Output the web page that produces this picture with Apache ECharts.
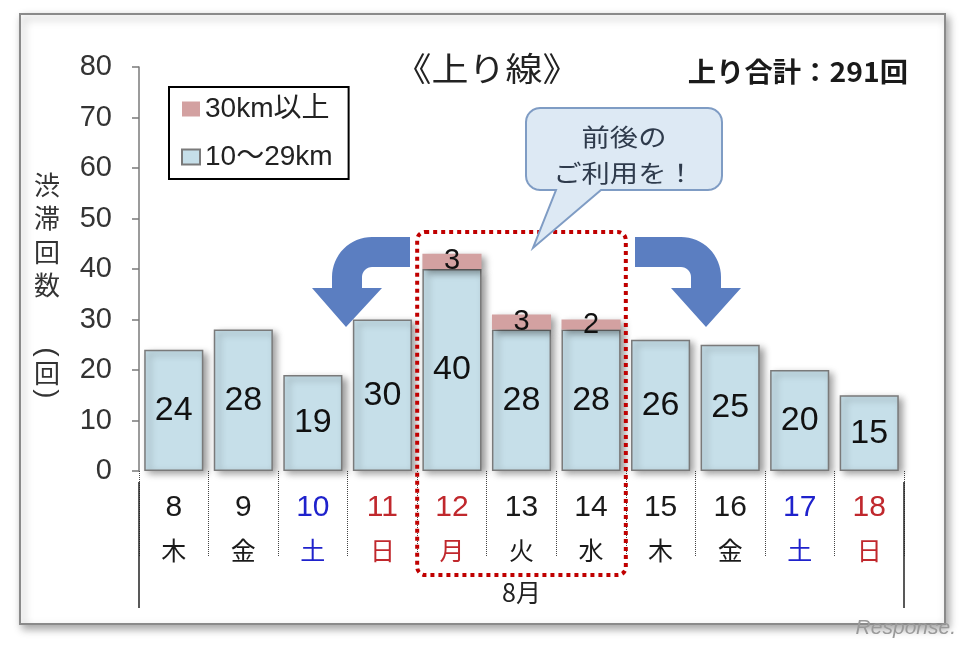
<!DOCTYPE html>
<html><head><meta charset="utf-8">
<script src="https://cdn.jsdelivr.net/npm/echarts@6/dist/echarts.min.js"></script>
<style>html,body{margin:0;padding:0;background:#fff}#c{width:968px;height:645px}</style>
</head><body><div id="c"></div>
<script>
// ---- data ----
const days = ['8','9','10','11','12','13','14','15','16','17','18'];
const weekdays = ['木','金','土','日','月','火','水','木','金','土','日'];
const holidays = ['12'];
const monthLabel = '8月';
const shortJam = [24, 28, 19, 30, 40, 28, 28, 26, 25, 20, 15];            // 10～29km
const longJam = [null, null, null, null, 3, 3, 2, null, null, null, null]; // 30km以上
const seriesNames = ['10～29km', '30km以上'];
const yMin = 0, yMax = 80, yStep = 10;
const titleText = '《上り線》';
const yAxisName = ['渋','滞','回','数'];
const yAxisUnit = ['(','回',')'];
const callout = ['前後の', 'ご利用を！'];
const highlightFrom = '12', highlightTo = '14';

const total = shortJam.concat(longJam).reduce((a, v) => a + (v || 0), 0);

const LAT = 'Liberation Sans, Arial, sans-serif';
const JP = 'Noto Sans CJK JP, sans-serif';
const BLUE = '#1f22cc', RED = '#c0282d', BLACK = '#1a1a1a';

function dayColor(i) {
  if (holidays.includes(days[i]) || weekdays[i] === '日') return 'r';
  if (weekdays[i] === '土') return 'b';
  return 'n';
}
const colMap = { n: BLACK, b: BLUE, r: RED };
const rich = {};
['n','b','r'].forEach(k => {
  rich['d' + k] = { fontFamily: LAT, fontSize: 30, color: colMap[k], lineHeight: 43 };
  rich['w' + k] = { fontFamily: JP, fontSize: 25, color: colMap[k], lineHeight: 43 };
});

const GRID = { left: 139, right: 64, top: 67, bottom: 174 };
const barShadow = { shadowColor: 'rgba(0,0,0,0.4)', shadowBlur: 7, shadowOffsetX: 4, shadowOffsetY: 3 };

const chart = echarts.init(document.getElementById('c'));
chart.setOption({
  animation: false,
  backgroundColor: '#fff',
  textStyle: { fontFamily: LAT },
  legend: {
    data: [seriesNames[1], seriesNames[0]],
    orient: 'vertical', left: 169, top: 87,
    padding: [8, 16, 8, 12], itemGap: 20,
    itemWidth: 18, itemHeight: 15, icon: 'rect',
    borderColor: '#000', borderWidth: 2,
    textStyle: { fontFamily: LAT + ',' + JP, fontSize: 28, color: '#222', lineHeight: 26 },
    itemStyle: { shadowBlur: 0, shadowOffsetX: 0, shadowOffsetY: 0 }
  },
  grid: GRID,
  xAxis: {
    type: 'category', data: days, offset: 11,
    axisLine: { show: false },
    axisTick: { show: true, interval: 0, length: 86, lineStyle: { type: 'dotted', color: '#444', width: 1 } },
    axisLabel: {
      interval: 0, margin: 4,
      formatter: (v, i) => '{d' + dayColor(i) + '|' + v + '}\n{w' + dayColor(i) + '|' + weekdays[i] + '}',
      rich: rich
    }
  },
  yAxis: {
    type: 'value', min: yMin, max: yMax, interval: yStep,
    axisLine: { show: true, lineStyle: { color: '#7a7a7a', width: 1.5 } },
    axisTick: { show: true, length: 7, lineStyle: { color: '#7a7a7a', width: 1.5 } },
    splitLine: { show: false },
    axisLabel: { fontFamily: LAT, fontSize: 29, color: '#333', margin: 27 }
  },
  series: [
    {
      name: seriesNames[0], type: 'bar', stack: 'jam', data: shortJam, barCategoryGap: '15%',
      itemStyle: Object.assign({ color: '#c6dfe9', borderColor: '#7a7a7a', borderWidth: 1.5 }, barShadow),
      label: { show: true, position: 'inside', fontFamily: LAT, fontSize: 34, color: '#111' },
      z: 3
    },
    {
      name: seriesNames[1], type: 'bar', stack: 'jam', data: longJam,
      itemStyle: Object.assign({ color: '#d3a1a1' }, barShadow),
      label: { show: true, position: 'inside', fontFamily: LAT, fontSize: 29, color: '#111' },
      z: 3
    }
  ]
});

// ---- annotations positioned from the axes ----
const i0 = days.indexOf(highlightFrom), i1 = days.indexOf(highlightTo);
const px = v => chart.convertToPixel({ xAxisIndex: 0 }, v);
const catW = px(days[1]) - px(days[0]);
const hx0 = px(days[i0]) - catW / 2;
const hx1 = px(days[i1]) + catW / 2;
const axL = px(days[0]) - catW / 2;
const axR = px(days[days.length - 1]) + catW / 2;
const arrowColor = '#5b7ec1';

function arc(cx, cy, r, a0, a1, n) {
  const pts = [];
  for (let k = 0; k <= n; k++) {
    const a = (a0 + (a1 - a0) * k / n) * Math.PI / 180;
    pts.push([cx + r * Math.cos(a), cy + r * Math.sin(a)]);
  }
  return pts;
}
const leftArrow = [[410, 237]]
  .concat(arc(372, 277, 40, -90, -180, 16))
  .concat([[332, 288], [312, 288], [346, 327], [382, 288], [362, 288]])
  .concat(arc(372, 277, 10, -180, -90, 8))
  .concat([[410, 267]]);
const rightArrow = [[635, 237]]
  .concat(arc(681, 277, 40, -90, 0, 16))
  .concat([[721, 288], [741, 288], [706, 327], [671, 288], [691, 288]])
  .concat(arc(681, 277, 10, 0, -90, 8))
  .concat([[635, 267]]);
const bx0 = 526, bx1 = 722, by0 = 108, by1 = 190, br = 14;
const bubble = []
  .concat(arc(bx0 + br, by0 + br, br, -180, -90, 6))
  .concat(arc(bx1 - br, by0 + br, br, -90, 0, 6))
  .concat(arc(bx1 - br, by1 - br, br, 0, 90, 6))
  .concat([[601, by1], [533, 248], [556, by1]])
  .concat(arc(bx0 + br, by1 - br, br, 90, 180, 6));

const graphics = [
  { type: 'rect', z: -5, shape: { x: 20, y: 14, width: 925, height: 610 },
    style: { fill: '#fff', stroke: '#8a8a8a', lineWidth: 2, shadowBlur: 8, shadowOffsetX: 3, shadowOffsetY: 4, shadowColor: 'rgba(0,0,0,0.35)' } },
  // titles
  { type: 'text', z: 10, x: 487, y: 68, scaleX: 1.12, style: { text: titleText, x: 0, y: 0, align: 'center', verticalAlign: 'middle', font: '33px ' + JP, fill: '#222' } },
  { type: 'text', z: 10, x: 908, y: 72, scaleX: 1.05, style: { text: '上り合計：' + total + '回', x: 0, y: 0, align: 'right', verticalAlign: 'middle', font: 'bold 27px ' + JP, fill: '#1a1a1a' } },
  // axis name (vertical)
  { type: 'text', z: 10, style: { text: yAxisName.join('\n'), x: 47, y: 168, align: 'center', font: '26px ' + JP, fill: '#333', lineHeight: 33.5 } },
  { type: 'text', z: 10, x: 47, y: 352, rotation: -Math.PI / 2, style: { text: yAxisUnit[0], x: 0, y: 0, align: 'center', verticalAlign: 'middle', font: '28px ' + LAT, fill: '#333' } },
  { type: 'text', z: 10, x: 47, y: 373, style: { text: yAxisUnit[1], x: 0, y: 0, align: 'center', verticalAlign: 'middle', font: '26px ' + JP, fill: '#333' } },
  { type: 'text', z: 10, x: 47, y: 394, rotation: -Math.PI / 2, style: { text: yAxisUnit[2], x: 0, y: 0, align: 'center', verticalAlign: 'middle', font: '28px ' + LAT, fill: '#333' } },
  // side lines and month label
  { type: 'line', z: 10, shape: { x1: axL, y1: 482, x2: axL, y2: 608 }, style: { stroke: '#222', lineWidth: 1.5 } },
  { type: 'line', z: 10, shape: { x1: axR, y1: 482, x2: axR, y2: 608 }, style: { stroke: '#222', lineWidth: 1.5 } },
  { type: 'text', z: 10, style: { text: monthLabel, x: (axL + axR) / 2, y: 592, align: 'center', verticalAlign: 'middle', font: '25px ' + JP, fill: '#222' } },
  // highlight frame
  { type: 'rect', z: 12, shape: { x: hx0, y: 232, width: hx1 - hx0, height: 343, r: 8 },
    style: { fill: 'none', stroke: '#c00000', lineWidth: 4, lineDash: [4, 4] } },
  // callout
  { type: 'polygon', z: 14, shape: { points: bubble }, style: { fill: '#dde9f4', stroke: '#7f9cc4', lineWidth: 2 } },
  { type: 'text', z: 15, x: 624, y: 137, scaleX: 1.18, style: { text: callout[0], x: 0, y: 0, align: 'center', verticalAlign: 'middle', font: '24px ' + JP, fill: '#2f3b4c' } },
  { type: 'text', z: 15, x: 624, y: 173, scaleX: 1.18, style: { text: callout[1], x: 0, y: 0, align: 'center', verticalAlign: 'middle', font: '24px ' + JP, fill: '#2f3b4c' } },
  // arrows
  { type: 'polygon', z: 11, shape: { points: leftArrow }, style: { fill: arrowColor } },
  { type: 'polygon', z: 11, shape: { points: rightArrow }, style: { fill: arrowColor } },
  // watermark
  { type: 'text', z: 20, style: { text: 'Response.', x: 956, y: 628, align: 'right', verticalAlign: 'middle', font: 'italic 21px ' + LAT, fill: '#9a9a9a' } }
];
chart.setOption({ graphic: graphics });
</script>
</body></html>
